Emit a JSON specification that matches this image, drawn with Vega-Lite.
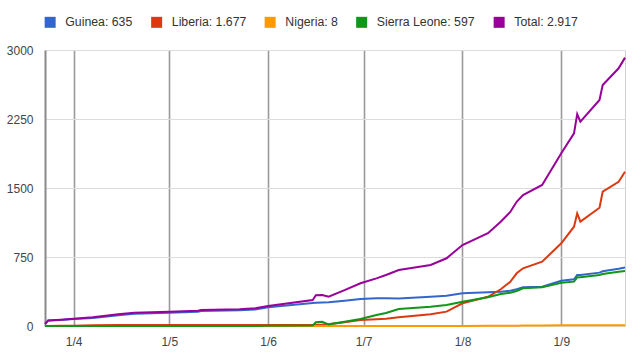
{
  "$schema": "https://vega.github.io/schema/vega-lite/v6.json",
  "width": 580,
  "height": 276,
  "autosize": {"type": "none"},
  "padding": {"left": 45, "top": 50, "right": 19, "bottom": 38},
  "background": "white",
  "data": {
    "values": [
      {"date": "2014-03-23", "Guinea": 23, "Liberia": 0, "Nigeria": 0, "Sierra Leone": 0, "Total": 23},
      {"date": "2014-03-24", "Guinea": 59, "Liberia": 0, "Nigeria": 0, "Sierra Leone": 0, "Total": 59},
      {"date": "2014-03-28", "Guinea": 66, "Liberia": 2, "Nigeria": 0, "Sierra Leone": 0, "Total": 68},
      {"date": "2014-04-01", "Guinea": 76, "Liberia": 4, "Nigeria": 0, "Sierra Leone": 0, "Total": 80},
      {"date": "2014-04-07", "Guinea": 88, "Liberia": 7, "Nigeria": 0, "Sierra Leone": 0, "Total": 95},
      {"date": "2014-04-15", "Guinea": 116, "Liberia": 11, "Nigeria": 0, "Sierra Leone": 0, "Total": 127},
      {"date": "2014-04-20", "Guinea": 134, "Liberia": 11, "Nigeria": 0, "Sierra Leone": 0, "Total": 145},
      {"date": "2014-05-01", "Guinea": 145, "Liberia": 11, "Nigeria": 0, "Sierra Leone": 0, "Total": 156},
      {"date": "2014-05-10", "Guinea": 155, "Liberia": 11, "Nigeria": 0, "Sierra Leone": 0, "Total": 166},
      {"date": "2014-05-11", "Guinea": 163, "Liberia": 11, "Nigeria": 0, "Sierra Leone": 0, "Total": 174},
      {"date": "2014-05-23", "Guinea": 170, "Liberia": 11, "Nigeria": 0, "Sierra Leone": 0, "Total": 181},
      {"date": "2014-05-28", "Guinea": 180, "Liberia": 11, "Nigeria": 0, "Sierra Leone": 1, "Total": 192},
      {"date": "2014-06-01", "Guinea": 203, "Liberia": 11, "Nigeria": 0, "Sierra Leone": 3, "Total": 217},
      {"date": "2014-06-15", "Guinea": 250, "Liberia": 12, "Nigeria": 0, "Sierra Leone": 5, "Total": 283},
      {"date": "2014-06-16", "Guinea": 252, "Liberia": 14, "Nigeria": 0, "Sierra Leone": 40, "Total": 335},
      {"date": "2014-06-18", "Guinea": 255, "Liberia": 16, "Nigeria": 0, "Sierra Leone": 45, "Total": 337},
      {"date": "2014-06-20", "Guinea": 258, "Liberia": 20, "Nigeria": 0, "Sierra Leone": 18, "Total": 318},
      {"date": "2014-06-25", "Guinea": 275, "Liberia": 40, "Nigeria": 0, "Sierra Leone": 47, "Total": 390},
      {"date": "2014-06-30", "Guinea": 293, "Liberia": 65, "Nigeria": 0, "Sierra Leone": 76, "Total": 464},
      {"date": "2014-07-05", "Guinea": 301, "Liberia": 73, "Nigeria": 0, "Sierra Leone": 120, "Total": 518},
      {"date": "2014-07-08", "Guinea": 301, "Liberia": 80, "Nigeria": 0, "Sierra Leone": 142, "Total": 554},
      {"date": "2014-07-12", "Guinea": 300, "Liberia": 95, "Nigeria": 0, "Sierra Leone": 185, "Total": 609},
      {"date": "2014-07-22", "Guinea": 318, "Liberia": 127, "Nigeria": 0, "Sierra Leone": 210, "Total": 663},
      {"date": "2014-07-27", "Guinea": 330, "Liberia": 156, "Nigeria": 1, "Sierra Leone": 228, "Total": 736},
      {"date": "2014-08-01", "Guinea": 355, "Liberia": 247, "Nigeria": 1, "Sierra Leone": 264, "Total": 880},
      {"date": "2014-08-09", "Guinea": 366, "Liberia": 318, "Nigeria": 2, "Sierra Leone": 312, "Total": 1008},
      {"date": "2014-08-13", "Guinea": 373, "Liberia": 399, "Nigeria": 3, "Sierra Leone": 348, "Total": 1134},
      {"date": "2014-08-16", "Guinea": 384, "Liberia": 480, "Nigeria": 4, "Sierra Leone": 362, "Total": 1240},
      {"date": "2014-08-18", "Guinea": 400, "Liberia": 573, "Nigeria": 4, "Sierra Leone": 380, "Total": 1350},
      {"date": "2014-08-20", "Guinea": 420, "Liberia": 627, "Nigeria": 5, "Sierra Leone": 410, "Total": 1424},
      {"date": "2014-08-26", "Guinea": 427, "Liberia": 699, "Nigeria": 6, "Sierra Leone": 420, "Total": 1533},
      {"date": "2014-09-01", "Guinea": 492, "Liberia": 899, "Nigeria": 7, "Sierra Leone": 471, "Total": 1877},
      {"date": "2014-09-05", "Guinea": 507, "Liberia": 1079, "Nigeria": 8, "Sierra Leone": 482, "Total": 2094},
      {"date": "2014-09-06", "Guinea": 554, "Liberia": 1225, "Nigeria": 8, "Sierra Leone": 529, "Total": 2304},
      {"date": "2014-09-07", "Guinea": 555, "Liberia": 1134, "Nigeria": 8, "Sierra Leone": 530, "Total": 2221},
      {"date": "2014-09-13", "Guinea": 580, "Liberia": 1286, "Nigeria": 8, "Sierra Leone": 554, "Total": 2457},
      {"date": "2014-09-14", "Guinea": 595, "Liberia": 1460, "Nigeria": 8, "Sierra Leone": 565, "Total": 2620},
      {"date": "2014-09-19", "Guinea": 622, "Liberia": 1568, "Nigeria": 8, "Sierra Leone": 590, "Total": 2801},
      {"date": "2014-09-21", "Guinea": 635, "Liberia": 1677, "Nigeria": 8, "Sierra Leone": 597, "Total": 2917}
    ]
  },
  "transform": [
    {"fold": ["Guinea", "Liberia", "Nigeria", "Sierra Leone", "Total"], "as": ["series", "deaths"]}
  ],
  "mark": {"type": "line", "strokeWidth": 2, "interpolate": "linear"},
  "encoding": {
    "x": {
      "field": "date",
      "type": "temporal",
      "scale": {"type": "utc", "nice": false},
      "axis": {
        "title": null,
        "values": [
          {"year": 2014, "month": 4, "date": 1, "utc": true},
          {"year": 2014, "month": 5, "date": 1, "utc": true},
          {"year": 2014, "month": 6, "date": 1, "utc": true},
          {"year": 2014, "month": 7, "date": 1, "utc": true},
          {"year": 2014, "month": 8, "date": 1, "utc": true},
          {"year": 2014, "month": 9, "date": 1, "utc": true}
        ],
        "labelExpr": "utcFormat(datum.value, '%-d/%-m')",
        "domain": false,
        "ticks": false,
        "grid": true,
        "gridColor": "#9a9a9a",
        "gridWidth": 1.6,
        "labelFont": "Liberation Sans",
        "labelFontSize": 12,
        "labelColor": "#444",
        "labelPadding": 10
      }
    },
    "y": {
      "field": "deaths",
      "type": "quantitative",
      "scale": {"domain": [0, 3000], "nice": false},
      "axis": {
        "title": null,
        "values": [0, 750, 1500, 2250, 3000],
        "format": "d",
        "domain": true,
        "domainColor": "#8a8a8a",
        "domainWidth": 2,
        "ticks": false,
        "grid": true,
        "gridColor": "#dcdcdc",
        "gridWidth": 1.2,
        "labelFont": "Liberation Sans",
        "labelFontSize": 12,
        "labelColor": "#444",
        "labelPadding": 12
      }
    },
    "color": {
      "field": "series",
      "type": "nominal",
      "sort": ["Guinea", "Liberia", "Nigeria", "Sierra Leone", "Total"],
      "scale": {
        "domain": ["Guinea", "Liberia", "Nigeria", "Sierra Leone", "Total"],
        "range": ["#3366cc", "#dc3912", "#ff9900", "#109618", "#990099"]
      },
      "legend": {
        "title": null,
        "orient": "none",
        "direction": "horizontal",
        "legendX": -1,
        "legendY": -34,
        "symbolType": "square",
        "symbolSize": 25,
        "symbolStrokeWidth": 6,
        "labelFont": "Liberation Sans",
        "labelFontSize": 12.3,
        "labelColor": "#333",
        "labelOffset": 9,
        "columnPadding": 8.5,
        "labelExpr": "datum.label == 'Guinea' ? 'Guinea: 635' : datum.label == 'Liberia' ? 'Liberia: 1.677' : datum.label == 'Nigeria' ? 'Nigeria: 8' : datum.label == 'Sierra Leone' ? 'Sierra Leone: 597' : 'Total: 2.917'"
      }
    }
  },
  "config": {
    "view": {"stroke": "#d0d0d0", "strokeWidth": 1},
    "legend": {"symbolOpacity": 1}
  }
}
